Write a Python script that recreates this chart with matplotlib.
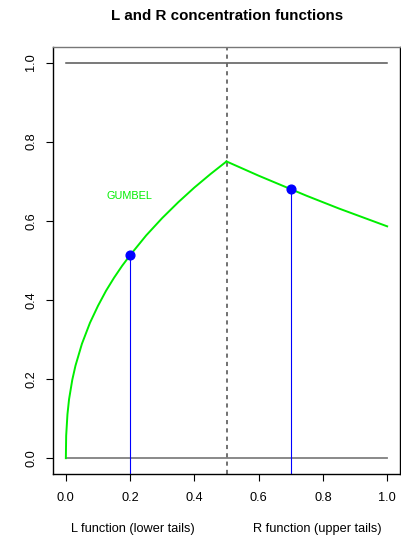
import matplotlib
matplotlib.use("Agg")
import matplotlib.pyplot as plt
import matplotlib.transforms as mtransforms

plt.rcParams['font.family'] = ['Liberation Sans', 'DejaVu Sans']

# Gumbel copula concentration functions
z_lower = [0.0, 0.001, 0.005, 0.01, 0.02, 0.03, 0.05, 0.075, 0.1, 0.125, 0.15,
           0.175, 0.2, 0.25, 0.3, 0.35, 0.4, 0.45, 0.5]
L_values = [0.0, 0.057, 0.111, 0.149, 0.198, 0.234, 0.289, 0.342, 0.385, 0.423,
            0.456, 0.486, 0.513, 0.563, 0.607, 0.647, 0.684, 0.718, 0.75]
z_upper = [0.5, 0.55, 0.6, 0.65, 0.7, 0.75, 0.8, 0.85, 0.9, 0.95, 1.0]
R_values = [0.75, 0.732, 0.714, 0.697, 0.680, 0.663, 0.647, 0.631, 0.616, 0.601, 0.586]

# empirical points marked on the curves
point_z = [0.2, 0.7]
point_val = [0.513, 0.680]

x_ticks = [0.0, 0.2, 0.4, 0.6, 0.8, 1.0]
y_ticks = [0.0, 0.2, 0.4, 0.6, 0.8, 1.0]
copula_name = "GUMBEL"

fig = plt.figure(figsize=(4.01, 5.39), dpi=100)
W, H = 401, 539
left, right, top, bottom = 53, 400, 46.7, 474
ax = fig.add_axes([left / W, 1 - bottom / H, (right - left) / W, (bottom - top) / H])
ax.set_xlim(-0.04, 1.04)
ax.set_ylim(-0.04, 1.04)

# reference lines
ax.plot([0, 1], [1, 1], color="#555555", lw=1.1)
ax.plot([0, 1], [0, 0], color="#808080", lw=1.3)
ax.axvline(0.5, color="#666666", lw=1.3, dashes=(2.3, 2.3))

# curves
ax.plot(z_lower, L_values, color="#00ee00", lw=1.4)
ax.plot(z_upper, R_values, color="#00ee00", lw=1.4)

# drop lines and points
for zz, vv in zip(point_z, point_val):
    ax.plot([zz, zz], [-0.1, vv], color="#0000ff", lw=0.8)
ax.plot(point_z, point_val, 'o', color="#0000ff", ms=6.3, zorder=5)

ax.text(0.198, 0.663, copula_name, color="#00ee00", fontsize=7.8,
        ha="center", va="center")

fs = 9.2
ax.set_xticks(x_ticks)
ax.set_xticklabels([f"{v:.1f}" for v in x_ticks])
ax.set_yticks(y_ticks)
ax.set_yticklabels([f"{v:.1f}" for v in y_ticks], rotation=90, va="center")
ax.tick_params(length=5.2, width=0.8, labelsize=fs, color="black")
ax.tick_params(axis="x", pad=8)
ax.tick_params(axis="y", pad=6)

for s in ["left", "bottom", "right"]:
    ax.spines[s].set_color("black")
    ax.spines[s].set_linewidth(1.0)
ax.spines["top"].set_color("#777777")
ax.spines["top"].set_linewidth(1.0)

trans = mtransforms.blended_transform_factory(ax.transData, fig.transFigure)
ax.text(0.209, 1 - 529 / H, "L function (lower tails)", transform=trans,
        fontsize=fs, ha="center", va="center")
ax.text(0.783, 1 - 529 / H, "R function (upper tails)", transform=trans,
        fontsize=fs, ha="center", va="center")

fig.text(227 / W, 1 - 16 / H, "L and R concentration functions",
         fontsize=10.9, fontweight="bold", ha="center", va="center")

fig.savefig("out.png", dpi=100)
